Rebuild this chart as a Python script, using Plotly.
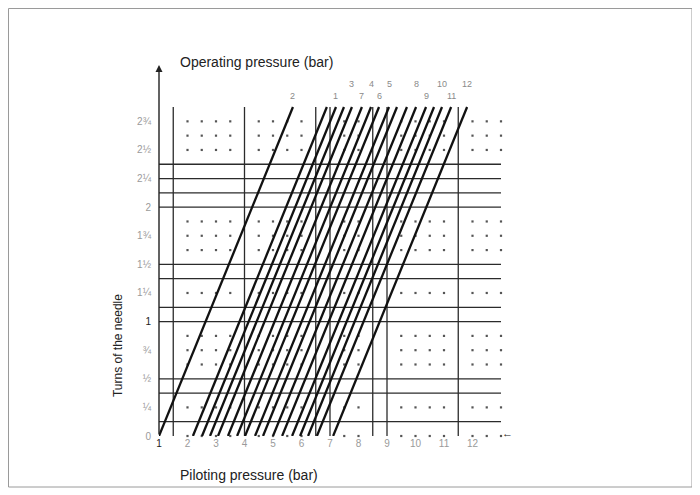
import plotly.graph_objects as go

# piloting pressure (bar) where each operating-pressure line leaves the bottom / reaches the top
line_start_bar = [1.00, 2.19, 2.51, 2.79, 3.07, 3.42, 3.74, 4.02, 4.37, 4.65, 5.00, 5.32, 5.67, 5.95, 6.23, 6.54, 7.11]
line_end_bar = [5.70, 6.89, 7.21, 7.49, 7.77, 8.12, 8.44, 8.72, 9.07, 9.35, 9.70, 10.02, 10.37, 10.65, 10.93, 11.25, 11.81]
line_bottom_turns = 0.0
line_top_turns = 2.875

# labels written above the line tops (label text, index of the line)
top_labels = ["2", "1", "3", "7", "4", "6", "5", "8", "9", "10", "11", "12"]
top_label_line = [0, 2, 4, 5, 6, 7, 8, 11, 12, 14, 15, 16]
upper_row = {"3", "4", "5", "8", "10", "12"}

# grid
solid_rows_turns = [0.125, 0.375, 0.5, 1.0, 1.125, 1.375, 1.5, 2.0, 2.125, 2.25, 2.375]
solid_cols_bar = [1.5, 4.0, 6.5, 7.0, 8.5, 9.0, 11.5]
dot_rows_turns = [0.0, 0.25, 0.625, 0.75, 0.875, 1.25, 1.625, 1.75, 1.875, 2.5, 2.625, 2.75]
dot_cols_bar = [2.0, 2.5, 3.0, 3.5, 4.5, 5.0, 5.5, 6.0, 7.5, 8.0, 9.5, 10.0, 10.5, 11.0, 12.0, 12.5, 13.0]

x_ticks = [1, 2, 3, 4, 5, 6, 7, 8, 9, 10, 11, 12]
y_ticks = [0, 0.25, 0.5, 0.75, 1.0, 1.25, 1.5, 1.75, 2.0, 2.25, 2.5, 2.75]
y_tick_text = ["0", "¼", "½", "¾", "1", "1¼", "1½", "1¾", "2", "2¼", "2½", "2¾"]

X_MIN, X_MAX = 1, 13
Y_MAX = 3.2425
FONT = "Liberation Sans Narrow, Arial Narrow, Liberation Sans, Arial, sans-serif"

# plot area in figure pixels
L, R, T, B = 151, 493, 57, 428
PW, PH = R - L, B - T

fig = go.Figure()

hx, hy = [], []
for r in solid_rows_turns:
    hx += [X_MIN, X_MAX, None]
    hy += [r, r, None]
fig.add_trace(go.Scatter(x=hx, y=hy, mode="lines", line=dict(color="#2b2b2b", width=1.3), cliponaxis=False, hoverinfo="skip"))

vx, vy = [], []
for c in solid_cols_bar:
    vx += [c, c, None]
    vy += [line_bottom_turns, line_top_turns, None]
fig.add_trace(go.Scatter(x=vx, y=vy, mode="lines", line=dict(color="#2b2b2b", width=1.3), cliponaxis=False, hoverinfo="skip"))

dx, dy = [], []
for r in dot_rows_turns:
    for c in dot_cols_bar:
        dx.append(c)
        dy.append(r)
fig.add_trace(go.Scatter(x=dx, y=dy, mode="markers", marker=dict(symbol="square", size=2.2, color="#555"), cliponaxis=False, hoverinfo="skip"))

lx, ly = [], []
for a, b in zip(line_start_bar, line_end_bar):
    lx += [a, b, None]
    ly += [line_bottom_turns, line_top_turns, None]
fig.add_trace(go.Scatter(x=lx, y=ly, mode="lines", line=dict(color="#111", width=2.3), cliponaxis=False, hoverinfo="skip"))

for text, idx in zip(top_labels, top_label_line):
    fig.add_annotation(
        x=line_end_bar[idx], y=line_top_turns, xref="x", yref="y",
        text=text, showarrow=False, yanchor="bottom",
        yshift=16 if text in upper_row else 4,
        font=dict(family=FONT, size=9, color="#8a8a8a"),
    )

# y axis line with arrow
fig.add_annotation(x=X_MIN, y=Y_MAX, ax=X_MIN, ay=0, xref="x", yref="y", axref="x", ayref="y",
                   text="", showarrow=True, arrowhead=2, arrowsize=1, arrowwidth=1.4, arrowcolor="#222")

fig.add_annotation(x=0.056, y=1.008, xref="paper", yref="paper", text="Operating pressure (bar)",
                   showarrow=False, xanchor="left", yanchor="middle", font=dict(family=FONT, size=14, color="#222"))
fig.add_annotation(x=0.056, y=-0.105, xref="paper", yref="paper", text="Piloting pressure (bar)",
                   showarrow=False, xanchor="left", yanchor="middle", font=dict(family=FONT, size=14, color="#222"))
fig.add_annotation(x=-0.12, y=0.245, xref="paper", yref="paper", text="Turns of the needle", textangle=-90,
                   showarrow=False, xanchor="center", yanchor="middle", font=dict(family=FONT, size=12, color="#222"))
fig.add_annotation(x=1.018, y=0.008, xref="paper", yref="paper", text="←",
                   showarrow=False, xanchor="center", yanchor="middle", font=dict(family=FONT, size=11, color="#222"))

# outer frame
fig.add_shape(type="rect", xref="paper", yref="paper",
              x0=(0.5 - L) / PW, x1=(684 - L) / PW, y0=(B - 479) / PH, y1=(B - 0.5) / PH,
              line=dict(color="#9a9a9a", width=1))

x_text = ["1" if v == 1 else f"<span style='color:#9a9a9a'>{v}</span>" for v in x_ticks]
y_text = [t if t == "1" else f"<span style='color:#9a9a9a'>{t}</span>" for t in y_tick_text]

fig.update_layout(
    width=700, height=495,
    margin=dict(l=L, r=700 - R, t=T, b=495 - B),
    paper_bgcolor="white", plot_bgcolor="white",
    showlegend=False,
    xaxis=dict(range=[X_MIN, X_MAX], showgrid=False, zeroline=False, showline=False, ticks="",
               tickvals=x_ticks, ticktext=x_text, tickfont=dict(family=FONT, size=10, color="#222")),
    yaxis=dict(range=[0, Y_MAX], showgrid=False, zeroline=False, showline=False, ticks="",
               tickvals=y_ticks, ticktext=y_text, ticklabelstandoff=7,
               tickfont=dict(family=FONT, size=10, color="#222")),
)

fig.write_html("out.html")
